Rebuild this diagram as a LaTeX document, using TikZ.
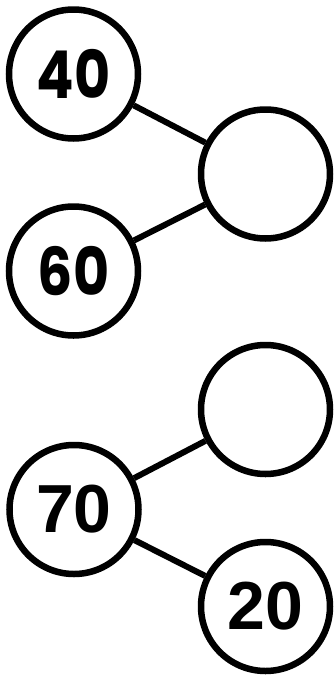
\documentclass[tikz,border=0pt]{standalone}
\usepackage{fontspec}
\newfontfamily\roundfont{Poppins}[UprightFont=* Bold]
\newfontfamily\arialfont{Liberation Sans}[UprightFont=* Bold]
\newcommand{\rtext}[1]{\raisebox{-3pt}{\scalebox{0.84}[1]{#1}}}
\newcommand{\atext}[1]{\raisebox{-2.5pt}{#1}}
\begin{document}
\begin{tikzpicture}[x=1pt,y=-1pt,
  bubble/.style={circle,draw=black,line width=6.5pt,minimum size=129pt,inner sep=0pt,fill=white},
  rnum/.style={font=\roundfont\fontsize{66}{66}\selectfont},
  anum/.style={font=\arialfont\fontsize{68}{68}\selectfont},
  link/.style={line width=6pt,black}]
\useasboundingbox (0,0) rectangle (333,675);
\node[bubble,rnum] (n40) at (73.5,74) {\rtext{40}};
\node[bubble] (top1) at (265.5,174) {};
\node[bubble,rnum] (n60) at (73.5,271) {\rtext{60}};
\node[bubble] (top2) at (265.5,409.5) {};
\node[bubble,anum] (n70) at (74,509.5) {\atext{70}};
\node[bubble,anum] (n20) at (265.5,606.5) {\atext{20}};
\draw[link] (n40) -- (top1);
\draw[link] (n60) -- (top1);
\draw[link] (n70) -- (top2);
\draw[link] (n70) -- (n20);
\end{tikzpicture}
\end{document}
